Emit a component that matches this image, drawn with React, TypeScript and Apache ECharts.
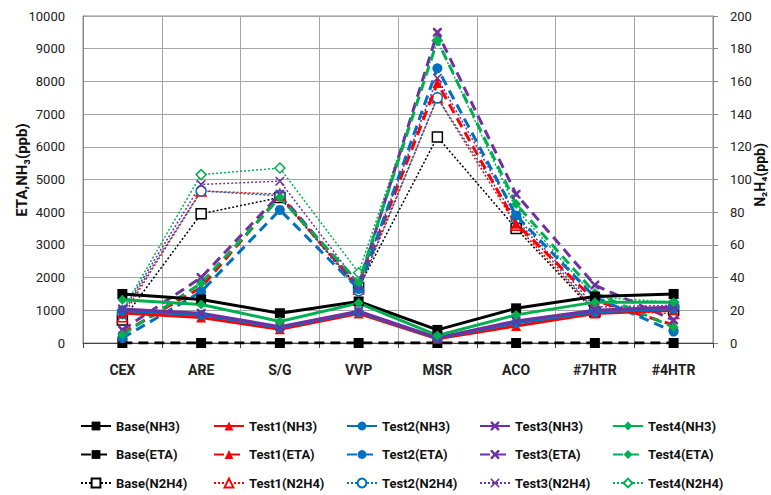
import React, { useEffect, useRef } from "react";
import * as echarts from "echarts";

const categories = ["CEX", "ARE", "S/G", "VVP", "MSR", "ACO", "#7HTR", "#4HTR"];
const leftTicks = { min: 0, max: 10000, interval: 1000 };
const rightTicks = { min: 0, max: 200, interval: 20 };
const leftAxisName = "ETA,NH₃(ppb)";
const rightAxisName = "N₂H₄(ppb)";

// NH3 (ppb, left axis)
const baseNH3 = [1500, 1330, 910, 1270, 400, 1060, 1420, 1500];
const test1NH3 = [920, 780, 420, 900, 130, 520, 900, 1000];
const test2NH3 = [990, 860, 470, 940, 150, 610, 950, 1050];
const test3NH3 = [1040, 910, 500, 970, 160, 670, 1000, 1100];
const test4NH3 = [1320, 1180, 660, 1220, 230, 860, 1250, 1250];

// ETA (ppb, left axis)
const baseETA = [0, 0, 0, 0, 0, 0, 0, 0];
const test1ETA = [300, 1700, 4500, 1700, 7950, 3650, 1300, 550];
const test2ETA = [150, 1570, 4070, 1650, 8400, 3900, 1400, 350];
const test3ETA = [400, 2000, 4550, 1750, 9500, 4550, 1770, 700];
const test4ETA = [250, 1830, 4450, 1850, 9250, 4250, 1530, 480];

// N2H4 (ppb, right axis)
const baseN2H4 = [14, 79, 89, 34, 126, 70, 19, 20];
const test1N2H4 = [16, 93, 91, 33, 150, 72, 20, 18];
const test2N2H4 = [18, 93, 90, 32, 150, 76, 20, 22];
const test3N2H4 = [19, 97, 99, 36, 162, 78, 22, 23];
const test4N2H4 = [20, 103, 107, 43, 185, 82, 28, 25];

const groups = ["Base", "Test1", "Test2", "Test3", "Test4"];
const nh3Data = [baseNH3, test1NH3, test2NH3, test3NH3, test4NH3];
const etaData = [baseETA, test1ETA, test2ETA, test3ETA, test4ETA];
const n2h4Data = [baseN2H4, test1N2H4, test2N2H4, test3N2H4, test4N2H4];

const COLORS = ["#000000", "#ff0000", "#0070c0", "#7030a0", "#00b050"];
const X_THICK = "path://M0,0L2,0L5,3L8,0L10,0L10,2L7,5L10,8L10,10L8,10L5,7L2,10L0,10L0,8L3,5L0,2Z";
const X_THIN = "path://M0,0L1.2,0L5,3.8L8.8,0L10,0L10,1.2L6.2,5L10,8.8L10,10L8.8,10L5,6.2L1.2,10L0,10L0,8.8L3.8,5L0,1.2Z";
const SYMBOLS = ["rect", "triangle", "circle", X_THICK, "diamond"];

const FONT = 'Roboto, "Noto Sans", "DejaVu Sans", sans-serif';

export default function App() {
  const ref = useRef<HTMLDivElement>(null);
  useEffect(() => {
    if (!ref.current) return;
    const chart = echarts.init(ref.current, null, { renderer: "svg" });
    const series: any[] = [];
    groups.forEach((g, i) => {
      series.push({
        name: `${g}(NH3)`,
        type: "line",
        yAxisIndex: 0,
        data: nh3Data[i],
        color: COLORS[i],
        symbol: SYMBOLS[i],
        symbolSize: i === 3 ? 9 : 10,
        lineStyle: { color: COLORS[i], width: 3, type: "solid" },
        itemStyle: { color: COLORS[i] },
        z: 4,
      });
    });
    groups.forEach((g, i) => {
      series.push({
        name: `${g}(ETA)`,
        type: "line",
        yAxisIndex: 0,
        data: etaData[i],
        color: COLORS[i],
        symbol: SYMBOLS[i],
        symbolSize: i === 3 ? 9 : 10,
        lineStyle: { color: COLORS[i], width: 3, type: [10, 6] },
        itemStyle: { color: COLORS[i] },
        z: 3,
      });
    });
    groups.forEach((g, i) => {
      const isX = i === 3;
      series.push({
        name: `${g}(N2H4)`,
        type: "line",
        yAxisIndex: 1,
        data: n2h4Data[i],
        color: COLORS[i],
        symbol: isX ? X_THIN : SYMBOLS[i],
        symbolSize: isX ? 9 : 10,
        lineStyle: { color: COLORS[i], width: 1.5, type: [2, 2] },
        itemStyle: isX
          ? { color: COLORS[i] }
          : { color: "#ffffff", borderColor: COLORS[i], borderWidth: 1.5 },
        z: 2,
      });
    });

    // one vertical legend per column (Base, Test1..Test4), rows NH3 / ETA / N2H4
    const legends = groups.map((g, c) => ({
      left: 80 + c * 133,
      top: 418,
      orient: "vertical",
      itemWidth: 30,
      itemHeight: 11,
      itemGap: 12.5,
      padding: 0,
      selectedMode: false,
      data: [`${g}(NH3)`, `${g}(ETA)`, `${g}(N2H4)`],
      textStyle: {
        fontFamily: FONT,
        fontSize: 13,
        fontWeight: "bold",
        color: "#111",
        lineHeight: 16,
      },
    }));

    const nameStyle = { fontFamily: FONT, fontSize: 15, fontWeight: "bold", fill: "#111" };

    chart.setOption({
      animation: false,
      backgroundColor: "#ffffff",
      textStyle: { fontFamily: FONT },
      grid: {
        left: 83,
        right: 58,
        top: 16,
        bottom: 152,
        show: true,
        borderColor: "#888",
        borderWidth: 1,
        containLabel: false,
      },
      legend: legends,
      graphic: [
        {
          type: "text",
          x: 22,
          y: 170,
          rotation: Math.PI / 2,
          style: { ...nameStyle, text: leftAxisName, align: "center", verticalAlign: "middle" },
        },
        {
          type: "text",
          x: 760,
          y: 175,
          rotation: Math.PI / 2,
          style: { ...nameStyle, fontSize: 14, text: rightAxisName, align: "center", verticalAlign: "middle" },
        },
      ],
      xAxis: {
        type: "category",
        data: categories,
        boundaryGap: true,
        axisLine: { show: true, lineStyle: { color: "#444", width: 1 } },
        axisTick: { show: true, alignWithLabel: false, length: 5, lineStyle: { color: "#444" } },
        splitLine: { show: true, interval: 0, lineStyle: { color: "#a6a6a6", width: 1 } },
        axisLabel: {
          interval: 0,
          margin: 20,
          fontFamily: FONT,
          fontSize: 14,
          fontWeight: "bold",
          color: "#222",
        },
      },
      yAxis: [
        {
          type: "value",
          position: "left",
          min: leftTicks.min,
          max: leftTicks.max,
          interval: leftTicks.interval,
          axisLine: { show: true, lineStyle: { color: "#888" } },
          axisTick: { show: false },
          splitLine: { show: true, lineStyle: { color: "#a6a6a6", width: 1 } },
          axisLabel: {
            margin: 18,
            fontFamily: FONT,
            fontSize: 13,
            color: "#222",
            formatter: (v: number) => String(v),
          },
        },
        {
          type: "value",
          position: "right",
          min: rightTicks.min,
          max: rightTicks.max,
          interval: rightTicks.interval,
          axisLine: { show: true, lineStyle: { color: "#888" } },
          axisTick: { show: true, length: 5, lineStyle: { color: "#888" } },
          splitLine: { show: false },
          axisLabel: {
            margin: 17,
            fontFamily: FONT,
            fontSize: 13,
            color: "#222",
            formatter: (v: number) => String(v),
          },
        },
      ],
      series,
    });
    return () => chart.dispose();
  }, []);
  return <div ref={ref} style={{ width: 771, height: 495, position: "absolute", left: 0, top: 0 }} />;
}
